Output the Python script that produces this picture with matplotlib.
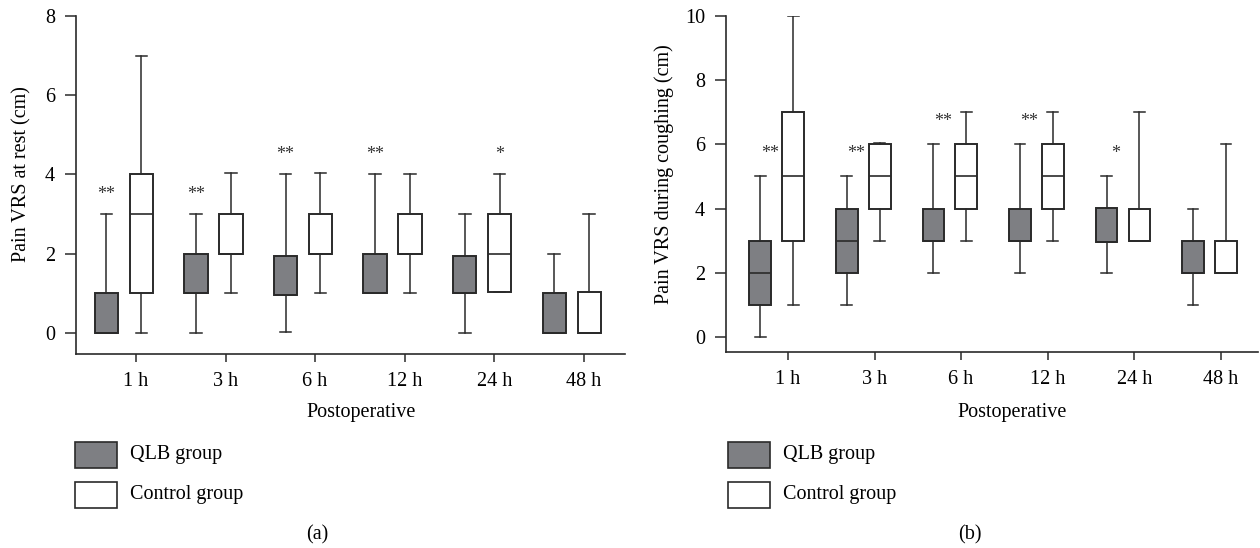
import matplotlib
matplotlib.use("Agg")
import matplotlib.pyplot as plt
from matplotlib.patches import Rectangle

plt.rcParams['font.family'] = ['Liberation Serif', 'DejaVu Serif']

categories = ["1 h", "3 h", "6 h", "12 h", "24 h", "48 h"]

# Panel (a): pain at rest  [whislo, q1, med, q3, whishi]
rest_qlb_lo  = [0, 0, 0.03, 1, 0, 0]
rest_qlb_q1  = [0, 1, 0.95, 1, 1, 0]
rest_qlb_med = [0, 1, 0.95, 1, 1, 0]
rest_qlb_q3  = [1, 2, 1.95, 2, 1.95, 1]
rest_qlb_hi  = [3, 3, 4, 4, 3, 2]

rest_ctl_lo  = [0, 1, 1, 1, 1.03, 0]
rest_ctl_q1  = [1, 2, 2, 2, 1.03, 0]
rest_ctl_med = [3, 2, 2, 2, 2, 0]
rest_ctl_q3  = [4, 3, 3, 3, 3, 1.03]
rest_ctl_hi  = [7, 4.03, 4.03, 4, 4, 3]

rest_stars = ["**", "**", "**", "**", "*", ""]
rest_star_group = ["qlb", "qlb", "qlb", "qlb", "ctl", ""]
rest_star_y = [3.5, 3.5, 4.5, 4.5, 4.5, 0]

# Panel (b): pain during coughing
cough_qlb_lo  = [0, 1, 2, 2, 2, 1]
cough_qlb_q1  = [1, 2, 3, 3, 2.96, 2]
cough_qlb_med = [2, 3, 3, 3, 2.96, 2]
cough_qlb_q3  = [3, 4, 4, 4, 4.03, 3]
cough_qlb_hi  = [5, 5, 6, 6, 5, 4]

cough_ctl_lo  = [1, 3, 3, 3, 3, 2]
cough_ctl_q1  = [3, 4, 4, 4, 3, 2]
cough_ctl_med = [5, 5, 5, 5, 3, 2]
cough_ctl_q3  = [7, 6, 6, 6, 4, 3]
cough_ctl_hi  = [10, 6.05, 7, 7, 7, 6]

cough_stars = ["**", "**", "**", "**", "*", ""]
cough_star_group = ["qlb", "qlb", "qlb", "qlb", "qlb", ""]
cough_star_y = [5.7, 5.7, 6.7, 6.7, 5.7, 0]

legend_labels = ["QLB group", "Control group"]
ylabels = ["Pain VRS at rest (cm)", "Pain VRS during coughing (cm)"]
xlabel = "Postoperative"
panel_labels = ["(a)", "(b)"]

QLB_COLOR = "#7e7f83"
EDGE = "#2a2a2a"
W, H = 1260, 548
FS = 14.5

def fx(px):
    return px / W

def fy(py):
    return 1 - py / H

def stats(lo, q1, med, q3, hi):
    return [dict(whislo=a, q1=b, med=c, q3=d, whishi=e, fliers=[])
            for a, b, c, d, e in zip(lo, q1, med, q3, hi)]

fig = plt.figure(figsize=(W / 100, H / 100), dpi=100)

panels = [
    dict(rect=(76, 16, 625, 354), ylim=(-0.53, 8), yticks=[0, 2, 4, 6, 8],
         xlim=(-0.67, 5.46), off_q=-0.33, off_c=0.06, width=0.26,
         qlb=stats(rest_qlb_lo, rest_qlb_q1, rest_qlb_med, rest_qlb_q3, rest_qlb_hi),
         ctl=stats(rest_ctl_lo, rest_ctl_q1, rest_ctl_med, rest_ctl_q3, rest_ctl_hi),
         stars=rest_stars, sgroup=rest_star_group, sy=rest_star_y, star_dx=0.0,
         ylab_x=22, xlab_x=361, leg_x=75, panel_x=317),
    dict(rect=(726, 16, 1258, 352), ylim=(-0.47, 10), yticks=[0, 2, 4, 6, 8, 10],
         xlim=(-0.716, 5.43), off_q=-0.32, off_c=0.06, width=0.25,
         qlb=stats(cough_qlb_lo, cough_qlb_q1, cough_qlb_med, cough_qlb_q3, cough_qlb_hi),
         ctl=stats(cough_ctl_lo, cough_ctl_q1, cough_ctl_med, cough_ctl_q3, cough_ctl_hi),
         stars=cough_stars, sgroup=cough_star_group, sy=cough_star_y, star_dx=0.11,
         ylab_x=664, xlab_x=1012, leg_x=728, panel_x=970),
]

for k, p in enumerate(panels):
    l, t, r, b = p["rect"]
    ax = fig.add_axes([fx(l), fy(b), fx(r) - fx(l), fy(t) - fy(b)])
    n = len(categories)
    xs = list(range(n))
    common = dict(widths=p["width"], patch_artist=True, showfliers=False,
                  capwidths=p["width"] * 0.5,
                  whiskerprops=dict(color=EDGE, linewidth=1.1),
                  capprops=dict(color=EDGE, linewidth=1.1),
                  medianprops=dict(color=EDGE, linewidth=1.2))
    ax.bxp(p["qlb"], positions=[x + p["off_q"] for x in xs],
           boxprops=dict(facecolor=QLB_COLOR, edgecolor=EDGE, linewidth=1.4), **common)
    ax.bxp(p["ctl"], positions=[x + p["off_c"] for x in xs],
           boxprops=dict(facecolor="white", edgecolor=EDGE, linewidth=1.4), **common)
    for i, (s, g, y) in enumerate(zip(p["stars"], p["sgroup"], p["sy"])):
        if not s:
            continue
        xo = (p["off_q"] + p["star_dx"]) if g == "qlb" else p["off_c"]
        ax.text(i + xo, y, s, ha="center", va="center", fontsize=13, color="#333333")
    ax.set_xlim(*p["xlim"])
    ax.set_ylim(*p["ylim"])
    ax.set_xticks(xs)
    ax.set_xticklabels(categories)
    ax.set_yticks(p["yticks"])
    for side in ["top", "right"]:
        ax.spines[side].set_visible(False)
    for side in ["left", "bottom"]:
        ax.spines[side].set_color(EDGE)
        ax.spines[side].set_linewidth(1.2)
    ax.tick_params(axis="y", length=8, width=1.1, color=EDGE, pad=7, labelsize=FS)
    ax.tick_params(axis="x", length=6, width=1.1, color=EDGE, pad=7, labelsize=FS)

    fig.text(fx(p["ylab_x"]), fy(174), ylabels[k], rotation=90, ha="center",
             va="center", fontsize=FS)
    fig.text(fx(p["xlab_x"]), fy(412), xlabel, ha="center", va="center", fontsize=FS)
    fig.text(fx(p["panel_x"]), fy(535), panel_labels[k], ha="center", va="center",
             fontsize=FS)
    lx = p["leg_x"]
    for j, (lab, fc) in enumerate(zip(legend_labels, [QLB_COLOR, "white"])):
        top = 442 + j * 40
        rect = Rectangle((fx(lx), fy(top + 26)), fx(42), 26 / H,
                         transform=fig.transFigure, facecolor=fc,
                         edgecolor=EDGE, linewidth=1.2)
        fig.add_artist(rect)
        fig.text(fx(lx + 55), fy(top + 13), lab, ha="left", va="center",
                 fontsize=FS)

fig.savefig("out.png", dpi=100)
